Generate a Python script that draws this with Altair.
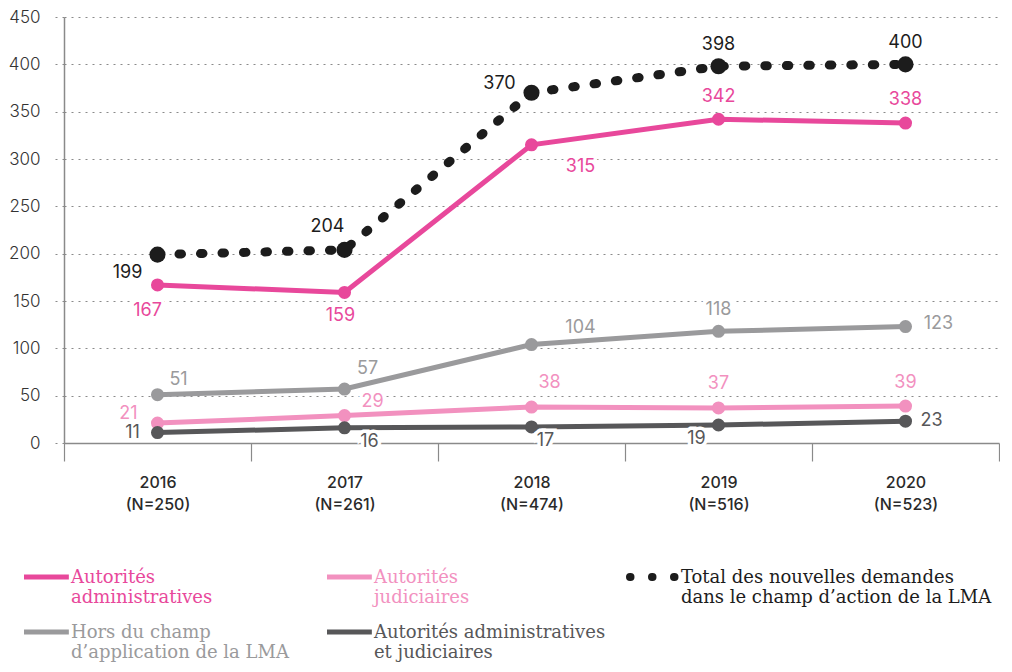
import altair as alt
import pandas as pd

# ---------------- data ----------------
years = ["2016", "2017", "2018", "2019", "2020"]
n_counts = ["250", "261", "474", "516", "523"]

series_keys = ["hors", "jud", "both", "admin", "total"]
admin = [167, 159, 315, 342, 338]
jud = [21, 29, 38, 37, 39]
hors = [51, 57, 104, 118, 123]
both = [11, 16, 17, 19, 23]
total = [199, 204, 370, 398, 400]

colors = {
    "admin": "#E8489B",
    "jud": "#F291BF",
    "hors": "#9A9A9C",
    "both": "#575759",
    "total": "#1C1C1C",
}

# label placement offsets (pixels) relative to each point
label_dx = {
    "total": [-30, -17, -32, 0, 0],
    "admin": [-10, -4, 49, 0, 0],
    "hors": [21, 23, 49, 0, 33],
    "jud": [-29, 28, 18, 0, 0],
    "both": [-25, 25, 14, -22, 26],
}
label_dy = {
    "total": [18, -23, -9, -21, -21],
    "admin": [26, 24, 22, -22, -23],
    "hors": [-15, -20, -17, -21, -3],
    "jud": [-9, -14, -24, -24, -23],
    "both": [0, 14, 14, 14, 0],
}

values = {"admin": admin, "jud": jud, "hors": hors, "both": both, "total": total}

# legend entries
legend_keys = ["admin", "jud", "total", "hors", "both"]
legend_line1 = ["Autorités", "Autorités", "Total des nouvelles demandes",
                "Hors du champ", "Autorités administratives"]
legend_line2 = ["administratives", "judiciaires", "dans le champ d’action de la LMA",
                "d’application de la LMA", "et judiciaires"]
legend_col = [0, 1, 2, 0, 1]
legend_row = [0, 0, 0, 1, 1]

# ---------------- tables ----------------
xlabs = [f"{y}|(N={n})" for y, n in zip(years, n_counts)]
rows = []
for k in series_keys:
    for i, xl in enumerate(xlabs):
        rows.append(
            dict(series=k, xlab=xl, value=values[k][i],
                 dx=label_dx[k][i], dy=label_dy[k][i], order=series_keys.index(k))
        )
df = pd.DataFrame(rows)

color_scale = alt.Scale(domain=list(colors.keys()), range=list(colors.values()))
NUM_FONT = "Inter"
LEG_FONT = "DejaVu Serif"

x_enc = alt.X(
    "xlab:N",
    sort=xlabs,
    scale=alt.Scale(type="band", paddingInner=0, paddingOuter=0),
    axis=alt.Axis(
        title=None, labelAngle=0, labelExpr="split(datum.label, '|')",
        tickBand="extent", tickSize=18, tickColor="#8a8a8a", tickWidth=1.2,
        domainColor="#8a8a8a", domainWidth=1.5, labelFont=NUM_FONT,
        labelFontSize=16, labelFontWeight=500, labelColor="#2a2a2a",
        labelPadding=13, labelLineHeight=22, grid=False,
    ),
)
y_enc = alt.Y(
    "value:Q",
    scale=alt.Scale(domain=[0, 450]),
    axis=alt.Axis(
        title=None, values=list(range(0, 451, 50)), grid=True,
        gridDash=[2, 5], gridColor="#8a8a8a", gridWidth=1,
        tickSize=10, tickDash=[2, 5], tickColor="#8a8a8a",
        domainColor="#8a8a8a", domainWidth=1.5,
        labelFont=NUM_FONT, labelFontSize=17, labelFontWeight=300,
        labelColor="#333333", labelPadding=14,
    ),
)
col_enc = alt.Color("series:N", scale=color_scale, legend=None)

base = alt.Chart(df)
solid = base.transform_filter("datum.series != 'total'")
dotted = base.transform_filter("datum.series == 'total'")

lines = solid.mark_line(strokeWidth=5).encode(
    x=x_enc, y=y_enc, color=col_enc, detail="series:N", order="order:Q"
)
pts = solid.mark_circle(size=170, opacity=1).encode(x=x_enc, y=y_enc, color=col_enc)

tot_line = dotted.mark_line(
    strokeWidth=9, strokeDash=[2.5, 19], strokeCap="round", color=colors["total"]
).encode(x=x_enc, y=y_enc)
tot_pts = dotted.mark_circle(size=260, opacity=1, color=colors["total"]).encode(
    x=x_enc, y=y_enc
)

# value labels: one pair of layers per distinct offset
halo_layers = []
label_layers = []
pairs = sorted(set(zip(df["dx"], df["dy"])))
for dx, dy in pairs:
    sub = base.transform_filter(f"datum.dx == {dx} && datum.dy == {dy}")
    halo_layers.append(
        sub.mark_text(
            font=NUM_FONT, fontSize=18, stroke="white", strokeWidth=7, fill="white",
            baseline="middle", align="center", dx=int(dx), dy=int(dy),
        ).encode(x=x_enc, y=y_enc, text="value:Q")
    )
    label_layers.append(
        sub.mark_text(
            font=NUM_FONT, fontSize=18, baseline="middle", align="center",
            dx=int(dx), dy=int(dy),
        ).encode(x=x_enc, y=y_enc, text="value:Q", color=col_enc)
    )

main = alt.layer(lines, pts, tot_line, tot_pts, *halo_layers, *label_layers)

# ---------------- legend (below the plot, own scales) ----------------
leg_df = pd.DataFrame(
    dict(series=legend_keys, l1=legend_line1, l2=legend_line2,
         col=legend_col, row=legend_row)
)
lx = alt.Scale(domain=[0, 2], range=[-40, 566])
ly = alt.Scale(domain=[0, 1], range=[560, 615])
leg_base = alt.Chart(leg_df).transform_calculate(
    x2="datum.col + (datum.col == 2 ? 0.147 : 0.148)",
    tx="datum.col + (datum.col == 2 ? 0.168 : 0.155)",
)
LX = alt.X("col:Q", scale=lx, axis=None)
LY = alt.Y("row:Q", scale=ly, axis=None)
leg_line = leg_base.transform_filter("datum.series != 'total'").mark_rule(
    strokeWidth=5
).encode(x=LX, x2="x2:Q", y=LY, color=col_enc)
leg_dots = leg_base.transform_filter("datum.series == 'total'").mark_rule(
    strokeWidth=8, strokeDash=[0.5, 21.5], strokeCap="round", color=colors["total"]
).encode(x=LX, x2="x2:Q", y=LY)
leg_t1 = leg_base.mark_text(
    font=LEG_FONT, fontSize=18, align="left", baseline="middle", dy=1
).encode(x=alt.X("tx:Q", scale=lx, axis=None), y=LY, text="l1:N", color=col_enc)
leg_t2 = leg_base.mark_text(
    font=LEG_FONT, fontSize=18, align="left", baseline="middle", dy=21
).encode(x=alt.X("tx:Q", scale=lx, axis=None), y=LY, text="l2:N", color=col_enc)
legend = alt.layer(leg_line, leg_dots, leg_t1, leg_t2)

chart = (
    alt.layer(main, legend)
    .resolve_scale(x="independent", y="independent", color="shared")
    .properties(width=935, height=426, padding=0)
    .configure_view(stroke=None)
)

chart.save("out.html", embed_options={"renderer": "svg", "actions": False})
